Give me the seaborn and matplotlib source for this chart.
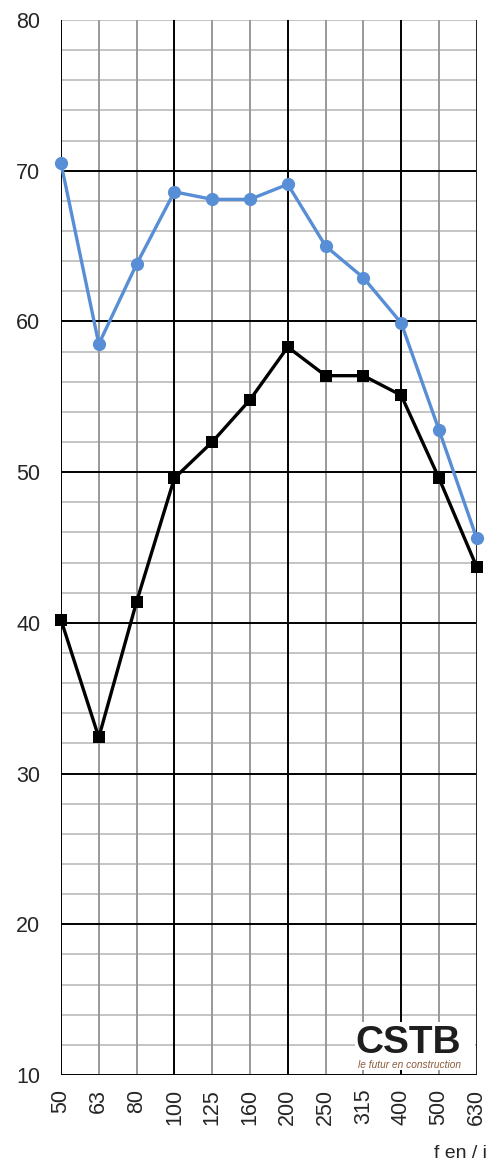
import matplotlib
matplotlib.use("Agg")
import matplotlib.pyplot as plt
import seaborn as sns
import pandas as pd
import numpy as np

# Third-octave band centre frequencies (Hz)
frequencies = ["50", "63", "80", "100", "125", "160", "200", "250", "315", "400", "500", "630"]
# Upper curve (blue, circles)
blue_values = [70.5, 58.5, 63.8, 68.6, 68.1, 68.1, 69.1, 65.0, 62.9, 59.9, 52.8, 45.6]
# Lower curve (black, squares)
black_values = [40.2, 32.4, 41.4, 49.6, 52.0, 54.8, 58.3, 56.4, 56.4, 55.1, 49.6, 43.7]

y_ticks = [10, 20, 30, 40, 50, 60, 70, 80]
strong_freqs = ["100", "200", "400"]

sns.set_theme(style="white")
plt.rcParams["font.family"] = ["Liberation Sans", "DejaVu Sans"]

pos = np.arange(len(frequencies))
df = pd.DataFrame({
    "pos": np.concatenate([pos, pos]),
    "value": blue_values + black_values,
    "series": ["blue"] * len(pos) + ["black"] * len(pos),
})

fig = plt.figure(figsize=(4.88, 11.64), dpi=100)
ax = fig.add_axes([0.125, 0.0765, 0.852, 0.9063])

# Grid: light gray every 2 units, black every 10
for y in np.arange(10, 81, 2):
    if y % 10 == 0 and y != 80:
        ax.axhline(y, color="black", lw=1.4, zorder=1)
    else:
        ax.axhline(y, color="#c4c4c4", lw=1.4, zorder=0.5)
for i, f in enumerate(frequencies):
    if f in strong_freqs or i == 0:
        ax.axvline(i, color="black", lw=1.4, zorder=1)
    elif i == len(frequencies) - 1:
        ax.axvline(i, color="#202020", lw=1.4, zorder=1)
    else:
        ax.axvline(i, color="#999999", lw=1.4, zorder=0.8)

sns.lineplot(data=df[df.series == "blue"], x="pos", y="value", ax=ax,
             color="#578ed6", lw=2.4, marker="o", markersize=9.5,
             markeredgewidth=0, zorder=5, clip_on=False)
sns.lineplot(data=df[df.series == "black"], x="pos", y="value", ax=ax,
             color="black", lw=2.4, marker="s", markersize=9,
             markeredgewidth=0, zorder=6, clip_on=False)

ax.set_xlim(0, len(frequencies) - 1)
ax.set_ylim(10, 80)
ax.set_xticks(pos)
ax.set_xticklabels(frequencies, rotation=90, fontsize=15.5)
ax.set_yticks(y_ticks)
ax.set_yticklabels([str(t) for t in y_ticks], fontsize=15.5)
ax.tick_params(axis="y", pad=15, length=0)
ax.tick_params(axis="x", pad=10, length=0)
ax.set_xlabel("")
ax.set_ylabel("")
for side, sp in ax.spines.items():
    sp.set_visible(False)

# Logo panel
ax.add_patch(plt.Rectangle((0.707, 0.005), 0.288, 0.045, transform=ax.transAxes,
                           facecolor="white", edgecolor="none", zorder=7))
fig.text(0.836, 0.0952, "CSTB", fontsize=28, fontweight="bold", color="#1e1e1e",
         ha="center", va="baseline", zorder=8)
fig.text(0.840, 0.0828, "le futur en construction", fontsize=7.3, style="italic",
         color="#8a5a3a", ha="center", va="baseline", zorder=8)

fig.text(0.998, 0.0053, "f en / i", fontsize=14, ha="right", va="baseline")

fig.savefig("out.png", dpi=100)
